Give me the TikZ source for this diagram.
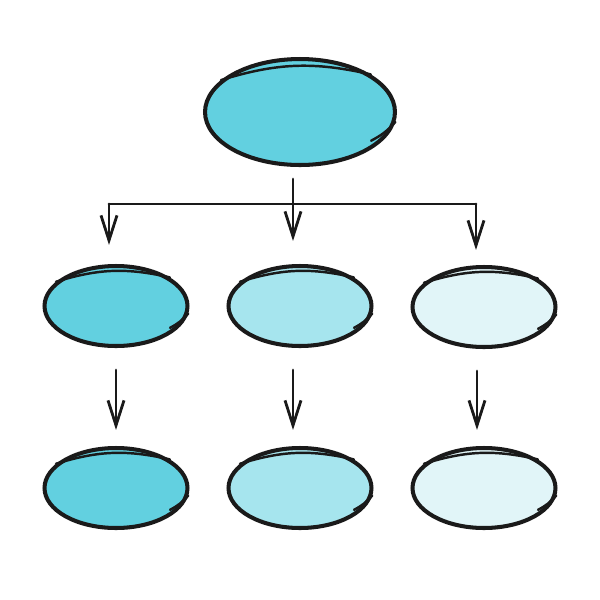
\documentclass[tikz,border=0pt]{standalone}
\usepackage{tikz}
\usetikzlibrary{shapes.geometric,arrows.meta,calc}

\definecolor{cyanA}{HTML}{62D0E0}
\definecolor{cyanB}{HTML}{A6E5EE}
\definecolor{cyanC}{HTML}{E1F5F8}
\definecolor{ink}{HTML}{1A1A1A}

\begin{document}
\begin{tikzpicture}[x=0.02cm,y=-0.02cm]
\tikzstyle{blob}=[ellipse, draw=ink, line width=2.3pt, minimum width=2.86cm, minimum height=1.6cm, inner sep=0pt]
\tikzstyle{bigblob}=[blob, minimum width=3.8cm, minimum height=2.12cm]
\tikzstyle{sketch}=[draw=ink, line width=1.4pt, line cap=round]
\tikzstyle{wire}=[draw=ink, line width=1.6pt, line cap=round]
\tikzstyle{arr}=[wire, -{Straight Barb[length=0.5cm,width=0.32cm,line width=1.6pt]}]
\useasboundingbox (0,0) rectangle (600,600);
\node (top) [bigblob,fill=cyanA] at (300,112) {};
\node (m1) [blob,fill=cyanA] at (116,306) {};
\node (m2) [blob,fill=cyanB] at (300,306) {};
\node (m3) [blob,fill=cyanC] at (484,307) {};
\node (b1) [blob,fill=cyanA] at (116,488) {};
\node (b2) [blob,fill=cyanB] at (300,488) {};
\node (b3) [blob,fill=cyanC] at (484,488) {};
% second stroke over each ellipse
\foreach \n in {top,m1,m2,m3,b1,b2,b3} {
  \draw[sketch] (\n.158) to[bend left=15] (\n.28);
  \draw[sketch] (\n.-6) to[bend left=10] ($(\n.center)!0.9!(\n.-22)$);
}
% branch line
\coordinate (lcorner) at (109,204);
\coordinate (rcorner) at (476,204);
\draw[wire] (lcorner) -- (rcorner);
\draw[arr] ([xshift=-0.14cm,yshift=-0.24cm]top.south) -- ([xshift=-0.14cm,yshift=0.46cm]m2.north);
\draw[arr] (lcorner) -- ($(lcorner |- m1.north)+(0,-19)$);
\draw[arr] (rcorner) -- ($(rcorner |- m3.north)+(0,-15)$);
% arrows to the bottom row
\foreach \a/\b/\dx in {m1/b1/0, m2/b2/-7, m3/b3/-7} {
  \draw[arr] ([xshift=\dx*0.02cm,yshift=-0.44cm]\a.south) -- ([xshift=\dx*0.02cm,yshift=0.32cm]\b.north);
}
\end{tikzpicture}
\end{document}
